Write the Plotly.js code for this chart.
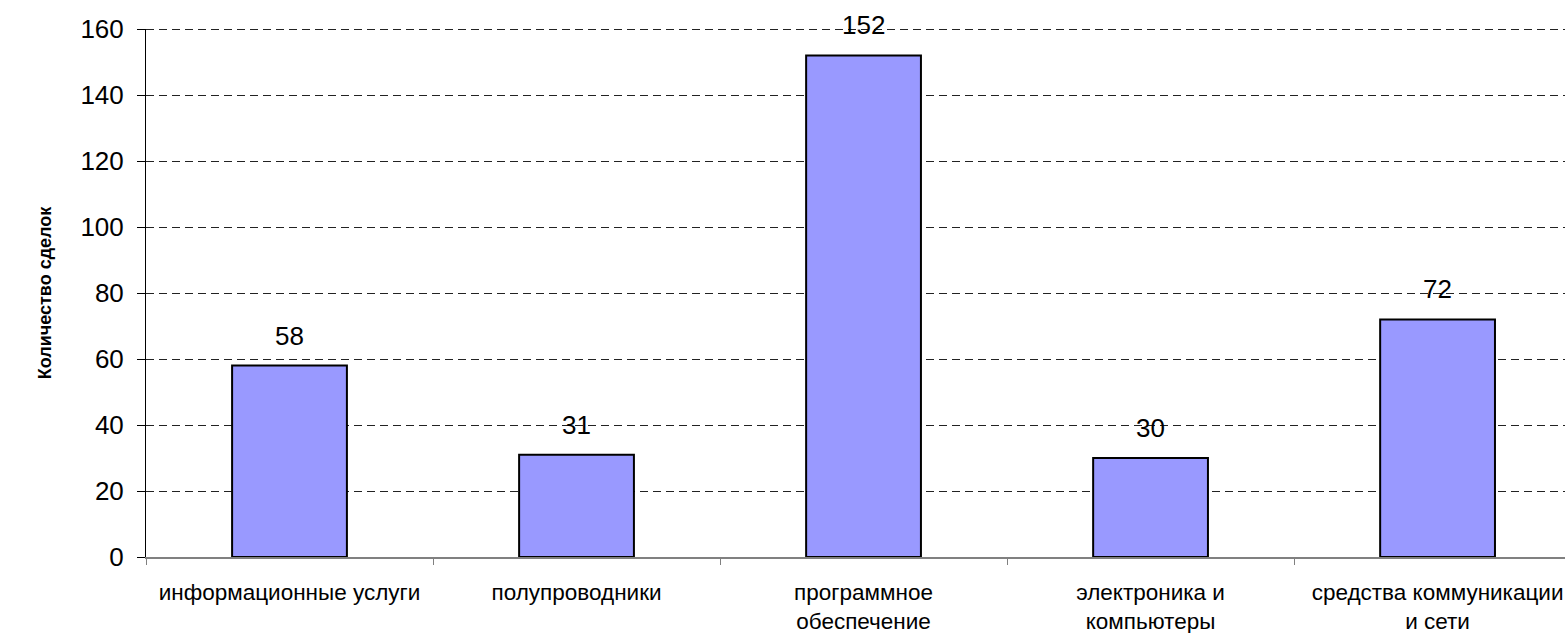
<!DOCTYPE html>
<html>
<head>
<meta charset="utf-8">
<script src="https://cdn.plot.ly/plotly-3.0.1.min.js"></script>
<style>
html,body{margin:0;padding:0;overflow:hidden;background:#fff;}
#chart{width:1565px;height:633px;}
</style>
</head>
<body>
<div id="chart"></div>
<script>
const categories = [
  "информационные услуги",
  "полупроводники",
  "программное<br>обеспечение",
  "электроника и<br>компьютеры",
  "средства коммуникации<br>и сети"
];
const values = [58, 31, 152, 30, 72];
const yTickVals = [0, 20, 40, 60, 80, 100, 120, 140, 160];
const yTitle = "Количество сделок";

const font = "Arial, 'Liberation Sans', sans-serif";
const yMax = yTickVals[yTickVals.length - 1];

const trace = {
  type: "bar",
  x: categories,
  y: values,
  width: 0.4,
  marker: {color: "#9999FF", line: {color: "#000000", width: 2}},
  hoverinfo: "none"
};

const annotations = values.map((v, i) => ({
  x: categories[i],
  y: v,
  xref: "x",
  yref: "y",
  text: String(v),
  showarrow: false,
  yanchor: "middle",
  yshift: 30,
  font: {family: font, size: 26, color: "#000"}
}));

const layout = {
  width: 1565,
  height: 633,
  margin: {l: 146, r: 0, t: 29, b: 76, pad: 0},
  paper_bgcolor: "#fff",
  plot_bgcolor: "#fff",
  showlegend: false,
  font: {family: font, color: "#000"},
  xaxis: {
    type: "category",
    range: [-0.5, 4.444],
    tickson: "boundaries",
    ticks: "outside",
    ticklen: 6,
    tickcolor: "#808080",
    tickwidth: 1,
    showline: true,
    linecolor: "#808080",
    linewidth: 2,
    showgrid: false,
    tickfont: {family: font, size: 22.5, color: "#000"},
    ticklabelstandoff: 14,
    fixedrange: true,
    automargin: false
  },
  yaxis: {
    range: [0, yMax],
    tickvals: yTickVals,
    ticktext: yTickVals.map(String),
    ticks: "outside",
    ticklen: 8,
    tickcolor: "#000",
    tickwidth: 1,
    showline: true,
    linecolor: "#000",
    linewidth: 1,
    zeroline: false,
    showgrid: true,
    gridcolor: "#222",
    gridwidth: 1,
    griddash: "8px,5px",
    tickfont: {family: font, size: 26, color: "#000"},
    ticklabelstandoff: 8,
    title: {text: yTitle, font: {family: font, size: 18, color: "#000", weight: "bold"}, standoff: 24},
    fixedrange: true,
    automargin: false
  },
  shapes: [{
    type: "line",
    xref: "paper", yref: "y",
    ysizemode: "pixel", yanchor: yMax,
    x0: 0, x1: 1, y0: -0.5, y1: -0.5,
    line: {color: "#222", width: 1, dash: "8px,5px"},
    layer: "below"
  }],
  annotations: annotations
};

Plotly.newPlot("chart", [trace], layout, {displayModeBar: false, staticPlot: true});
</script>
</body>
</html>
